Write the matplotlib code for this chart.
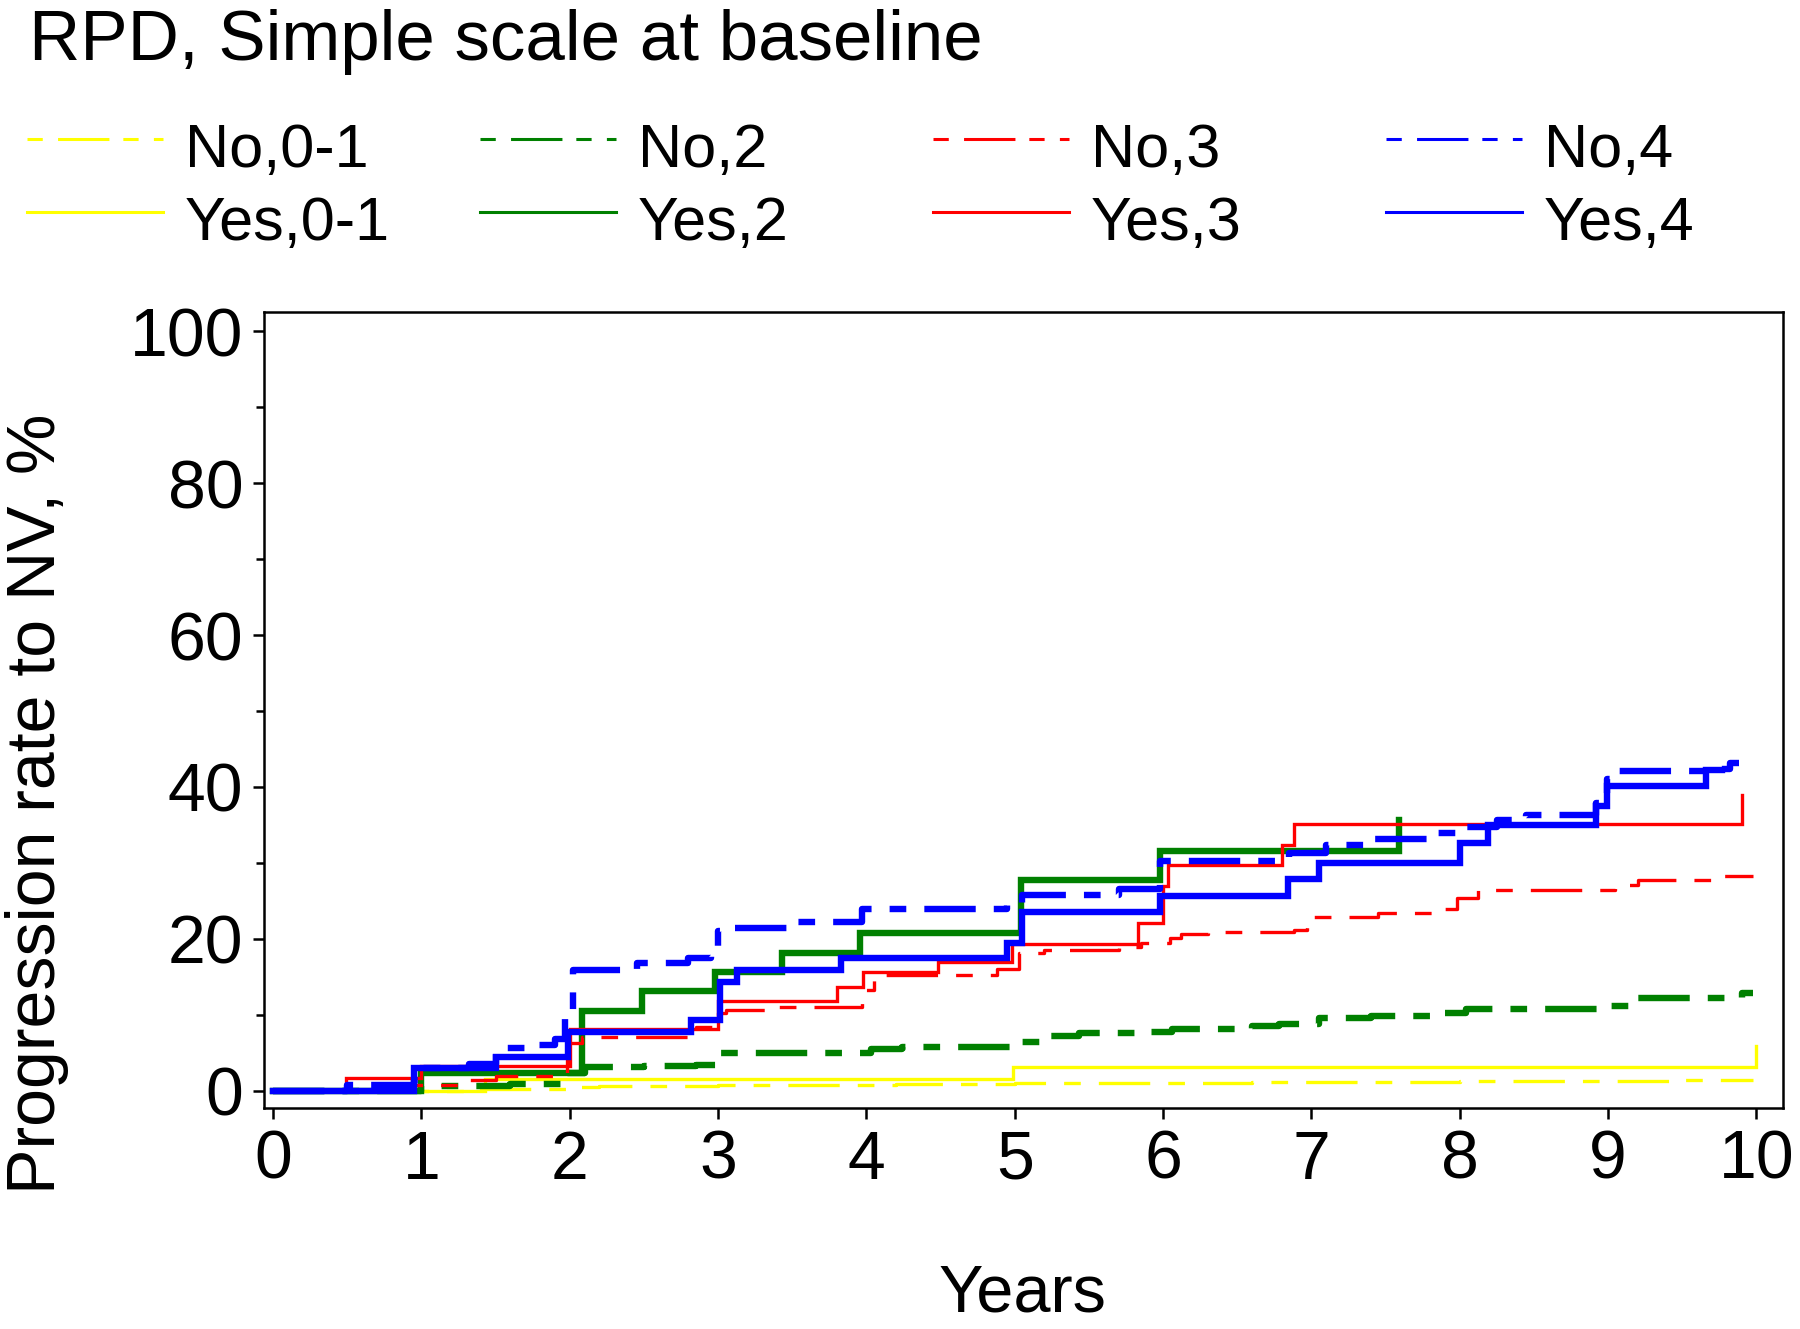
import matplotlib.pyplot as plt
from matplotlib.lines import Line2D

plt.rcParams['font.family'] = ['Liberation Sans', 'DejaVu Sans']
plt.rcParams['lines.scale_dashes'] = False

# cumulative progression to NV (%), step times in years
no01_t = [0, 1.4, 2.0, 2.2, 3.0, 4.2, 5.0, 6.6, 8.0, 9.5, 9.98]
no01_y = [0, 0.2, 0.5, 0.7, 0.8, 0.9, 1.1, 1.2, 1.3, 1.5, 1.5]

yes01_t = [0, 1.43, 4.99, 10.0]
yes01_y = [0, 1.6, 3.2, 5.9]

no2_t = [0, 1.0, 1.6, 1.95, 2.1, 2.5, 2.85, 3.02, 4.03, 4.24, 4.98, 5.2, 5.43, 5.9,
         6.06, 6.6, 6.78, 7.05, 7.4, 7.8, 8.04, 8.98, 9.2, 9.9, 9.98]
no2_y = [0, 0.7, 0.9, 2.3, 3.1, 3.3, 3.4, 5.0, 5.5, 5.8, 6.5, 7.2, 7.6, 7.8,
         8.1, 8.5, 8.8, 9.6, 9.9, 10.2, 10.8, 11.2, 12.2, 12.9, 12.9]

yes2_t = [0, 1.0, 2.08, 2.49, 2.98, 3.43, 3.96, 5.04, 5.98, 7.59]
yes2_y = [0, 2.3, 10.5, 13.1, 15.6, 18.1, 20.8, 27.8, 31.6, 35.7]

no3_t = [0, 0.9, 1.3, 1.5, 1.98, 2.08, 2.85, 3.0, 3.05, 3.4, 3.97, 4.05, 4.88, 5.03,
         5.2, 5.7, 5.85, 6.05, 6.12, 6.3, 6.88, 6.97, 7.45, 7.82, 7.98, 8.12, 9.05,
         9.2, 9.75, 9.98]
no3_y = [0, 0.8, 1.5, 2.0, 6.3, 7.1, 8.4, 10.2, 10.7, 11.1, 13.3, 15.3, 16.1, 18.1,
         18.6, 19.0, 19.5, 20.1, 20.6, 20.9, 21.2, 22.9, 23.4, 24.0, 25.4, 26.4, 27.1,
         27.7, 28.3, 28.3]

yes3_t = [0, 0.49, 1.0, 2.0, 3.0, 3.8, 3.98, 4.48, 4.98, 5.83, 6.0, 6.03, 6.8, 6.88, 9.9]
yes3_y = [0, 1.75, 3.3, 8.2, 11.8, 13.7, 15.6, 17.0, 19.4, 22.1, 27.0, 29.7, 32.4, 35.1, 38.9]

no4_t = [0, 0.5, 0.95, 1.0, 1.32, 1.5, 1.78, 1.9, 1.97, 2.02, 2.45, 2.8, 2.95, 3.0,
         3.1, 3.5, 3.97, 4.95, 5.05, 5.7, 5.98, 6.85, 7.1, 7.4, 7.8, 8.0, 8.25, 8.45,
         8.92, 8.99, 9.05, 9.7, 9.82, 9.88]
no4_y = [0, 0.8, 1.5, 3.0, 3.6, 5.6, 6.0, 6.9, 9.5, 15.9, 16.8, 17.5, 18.8, 21.0,
         21.5, 22.2, 24.0, 24.8, 25.8, 26.6, 30.3, 31.3, 32.4, 33.2, 34.0, 34.7, 35.7, 36.3,
         37.9, 41.1, 42.1, 42.4, 43.1, 43.1]

yes4_t = [0, 0.95, 1.5, 1.99, 2.82, 3.01, 3.13, 3.83, 4.95, 5.05, 5.98, 6.84, 7.05,
          8.0, 8.19, 8.92, 8.99, 9.66, 9.77]
yes4_y = [0, 3.0, 4.5, 7.8, 9.4, 14.4, 15.9, 17.5, 19.5, 23.5, 25.6, 27.9, 30.0,
          32.6, 35.0, 37.5, 40.1, 42.3, 42.3]

dash = (0, (37, 13, 12, 13))
thin, thick = 2.4, 4.6

series = [
    ('No,0-1', no01_t, no01_y, '#FFFF00', dash, thin),
    ('Yes,0-1', yes01_t, yes01_y, '#FFFF00', '-', thin),
    ('No,2', no2_t, no2_y, '#008000', dash, thick),
    ('Yes,2', yes2_t, yes2_y, '#008000', '-', thick),
    ('No,3', no3_t, no3_y, '#FF0000', dash, thin),
    ('Yes,3', yes3_t, yes3_y, '#FF0000', '-', thin),
    ('No,4', no4_t, no4_y, '#0000FF', dash, thick),
    ('Yes,4', yes4_t, yes4_y, '#0000FF', '-', thick),
]

fig = plt.figure(figsize=(18, 13.29), dpi=100)
ax = fig.add_axes([0.1467, 0.1663, 0.8439, 0.5989])

for name, t, y, c, ls, lw in series:
    ax.step(t, y, where='post', color=c, linestyle=ls, linewidth=lw,
            dash_capstyle='butt', solid_joinstyle='miter')

ax.set_xlim(-0.061, 10.18)
ax.set_ylim(-2.24, 102.5)
ax.set_xticks(range(11))
ax.set_yticks([0, 20, 40, 60, 80, 100])
ax.set_yticks([10, 30, 50, 70, 90], minor=True)
ax.tick_params(axis='both', which='major', direction='out', length=8, width=1.8,
               labelsize=49, pad=7)
ax.tick_params(axis='y', which='minor', direction='out', length=6, width=1.8)
for s in ax.spines.values():
    s.set_linewidth(1.8)

fig.text(0.016, 0.955, 'RPD, Simple scale at baseline', fontsize=51, va='baseline')
fig.text(0.0206, 0.395, 'Progression rate to NV, %', fontsize=49, rotation=90,
         ha='center', va='center')
fig.text(0.5678, 1 - 1312 / 1329, 'Years', fontsize=48, ha='center', va='baseline')

# legend laid out in fixed columns like the original
for i, (name, t, y, c, ls, lw) in enumerate(series):
    col, row = i // 2, i % 2
    x0 = 27 + 453 * col
    yl = [139, 212][row]
    yb = [167, 240][row]
    fig.add_artist(Line2D([x0 / 1800, (x0 + 136) / 1800], [1 - yl / 1329] * 2,
                          color=c, linewidth=2.2,
                          linestyle=(0, (11, 11, 37, 10)) if ls != '-' else '-'))
    fig.text((x0 + 158) / 1800, 1 - yb / 1329, name, fontsize=44, va='baseline')

fig.savefig('out.png', dpi=100)
